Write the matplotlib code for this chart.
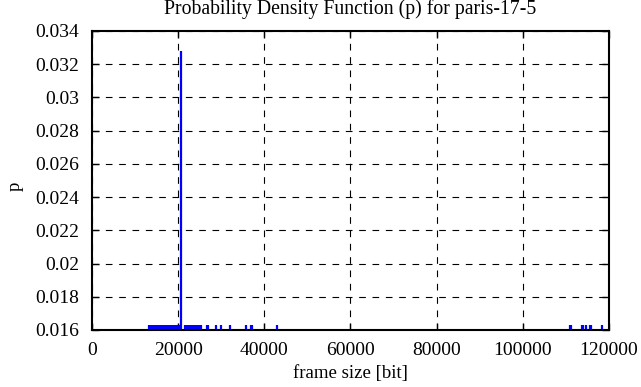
import matplotlib
matplotlib.use("Agg")
import matplotlib.pyplot as plt

# frame sizes [bit] and probability values
spike_x = [20700]
spike_p = [0.0328]

small_x = [13300, 13600,
           13900, 14150, 14400, 14650, 14900, 15150, 15400, 15650, 15900, 16150,
           16400, 16650, 16900, 17150, 17400, 17650, 17900, 18150, 18400, 18650,
           18900, 19150, 19400,
           19850, 20150,
           21600, 21850, 22100, 22350, 22600, 22850, 23100, 23350, 23600, 23850,
           24100, 24350, 24600, 24850, 25100, 25350,
           26600, 26900, 28800, 29900, 32000, 35700, 36800, 37100, 42900,
           110900, 111100, 113800, 114000, 114700, 115600, 115800, 118500]
small_p = [0.0163] * len(small_x)

xticks = [0, 20000, 40000, 60000, 80000, 100000, 120000]
yticks = [0.016, 0.018, 0.02, 0.022, 0.024, 0.026, 0.028, 0.03, 0.032, 0.034]
ytick_labels = ["0.016", "0.018", "0.02", "0.022", "0.024", "0.026", "0.028", "0.03", "0.032", "0.034"]

plt.rcParams['font.family'] = ['Liberation Serif', 'DejaVu Serif']

fig = plt.figure(figsize=(6.41, 3.87), dpi=100)
ax = fig.add_axes([0.1435, 0.1473, 0.8065, 0.7726])

ymin = 0.016
ax.vlines(small_x, ymin, small_p, colors='#0000ff', linewidth=1.6)
ax.vlines(spike_x, ymin, spike_p, colors='#0000ff', linewidth=1.6)

ax.set_xlim(0, 120000)
ax.set_ylim(0.016, 0.034)
ax.set_xticks(xticks)
ax.set_xticklabels([str(v) for v in xticks])
ax.set_yticks(yticks)
ax.set_yticklabels(ytick_labels)

ax.grid(True, color='black', linestyle=(0, (6, 6)), linewidth=0.8)
ax.set_axisbelow(True)
ax.tick_params(direction='in', top=True, right=True, length=5, width=1.0,
               labelsize=14)
ax.tick_params(axis='y', pad=9)
ax.tick_params(axis='x', pad=9)
for s in ax.spines.values():
    s.set_linewidth(1.5)

ax.set_title("Probability Density Function (p) for paris-17-5", fontsize=14.2, pad=12)
ax.set_xlabel("frame size [bit]", fontsize=13.5, labelpad=4)
fig.text(15 / 641, 1 - 186 / 387, "p", rotation=90, fontsize=13.5,
         ha='center', va='center')

fig.savefig("out.png", dpi=100)
